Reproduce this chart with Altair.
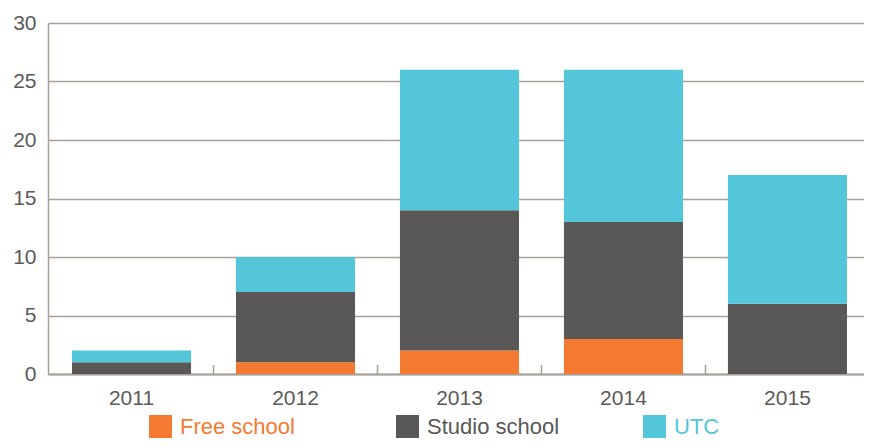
import altair as alt
import pandas as pd

years = ["2011", "2012", "2013", "2014", "2015"]
series = ["Free school", "Studio school", "UTC"]
free_school = [0, 1, 2, 3, 0]
studio_school = [1, 6, 12, 10, 6]
utc = [1, 3, 12, 13, 11]
colors = ["#f47a32", "#5a5856", "#53c6da"]

rows = []
for i, y in enumerate(years):
    for k, (name, vals) in enumerate(zip(series, [free_school, studio_school, utc])):
        rows.append({"year": y, "type": name, "value": vals[i], "order": k})
df = pd.DataFrame(rows)

FONT = "Liberation Sans"
GRID = "#a8a19b"
TEXT = "#5a5a5a"

label_expr = ("datum.value == '%s' ? '%s' : datum.value == '%s' ? '%s' : '%s'"
              % (series[0], colors[0], series[1], colors[1], colors[2]))

xscale = alt.Scale(paddingInner=0.274, paddingOuter=0.125, align=0.585)

bars = alt.Chart(df).mark_bar().encode(
    x=alt.X("year:N", scale=xscale, title=None,
            axis=alt.Axis(labelAngle=0, ticks=False, labelPadding=13,
                          labelFontSize=21, labelColor=TEXT, labelFont=FONT,
                          domainColor=GRID, domainWidth=2)),
    y=alt.Y("value:Q", stack="zero",
            scale=alt.Scale(domain=[0, 30], nice=False),
            title=None,
            axis=alt.Axis(values=[0, 5, 10, 15, 20, 25, 30], ticks=False,
                          labelPadding=12, labelFontSize=21, labelColor=TEXT,
                          labelFont=FONT, gridColor=GRID, gridWidth=1.5,
                          domainColor=GRID, domainWidth=1.5)),
    color=alt.Color("type:N",
                    scale=alt.Scale(domain=series, range=colors),
                    legend=alt.Legend(
                        title=None, orient="none", direction="horizontal",
                        legendX=101, legendY=392, padding=0,
                        symbolType="square", symbolSize=529,
                        symbolStrokeWidth=0, symbolOpacity=1,
                        labelFontSize=22, labelFont=FONT, labelOffset=8,
                        gridAlign="all", columnPadding=83,
                        labelColor=alt.ExprRef(expr=label_expr),
                    )),
    order=alt.Order("order:Q", sort="ascending"),
)

ticks = alt.Chart(df).transform_filter(
    "datum.type == 'UTC' && datum.year != '2015'"
).mark_rule(color=GRID, strokeWidth=1.5, xOffset=22.5).encode(
    x=alt.X("year:N", bandPosition=1),
    y=alt.value(351),
    y2=alt.value(342),
)

chart = alt.layer(bars, ticks).properties(
    width=816, height=351,
    padding={"left": 40, "top": 15, "right": 0, "bottom": 66},
    autosize=alt.AutoSizeParams(type="none"),
).configure_view(stroke=None)

chart.save("out.html", embed_options={"renderer": "svg", "actions": False})
